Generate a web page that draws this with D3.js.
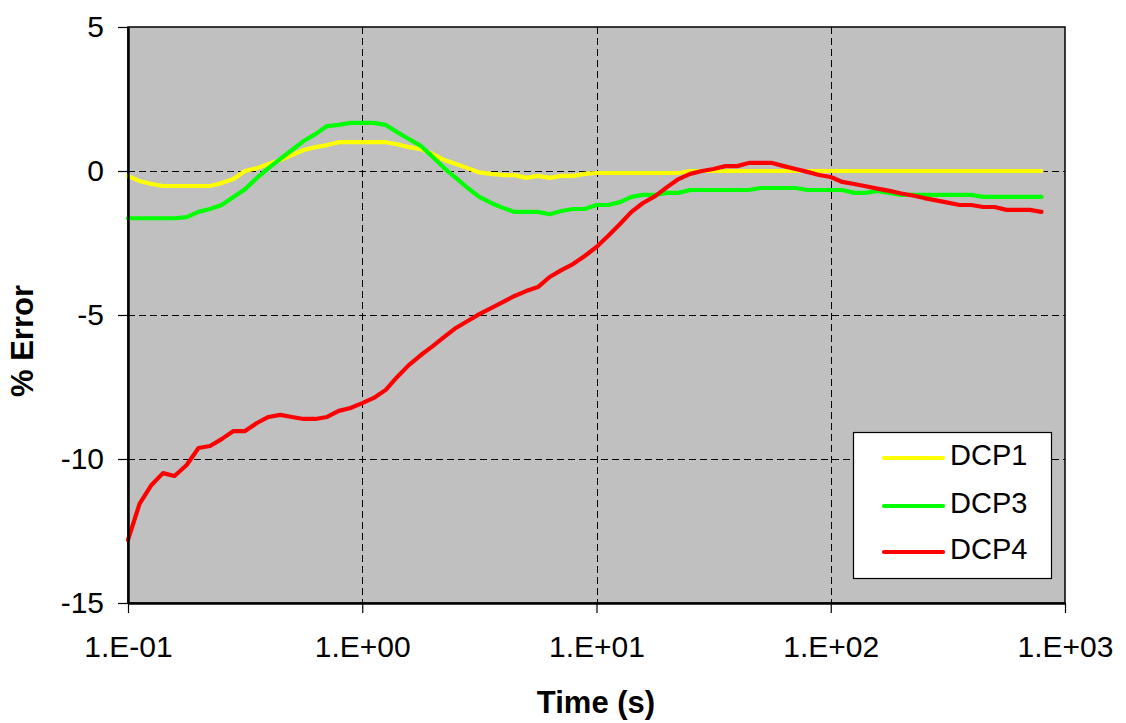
<!DOCTYPE html>
<html>
<head>
<meta charset="utf-8">
<script src="https://cdn.jsdelivr.net/npm/d3@7"></script>
<style>
  html, body { margin: 0; padding: 0; background: #fff; }
  svg { display: block; font-family: "Liberation Sans", Arial, sans-serif; }
</style>
</head>
<body>
<svg id="chart" width="1126" height="723"></svg>
<script>
// ---- Data ----
const times = [0.1, 0.112, 0.126, 0.141, 0.158, 0.178, 0.2, 0.224, 0.251, 0.282,
  0.316, 0.355, 0.398, 0.447, 0.501, 0.562, 0.631, 0.708, 0.794, 0.891,
  1, 1.12, 1.26, 1.41, 1.58, 1.78, 2, 2.24, 2.51, 2.82,
  3.16, 3.55, 3.98, 4.47, 5.01, 5.62, 6.31, 7.08, 7.94, 8.91,
  10, 11.2, 12.6, 14.1, 15.8, 17.8, 20, 22.4, 25.1, 28.2,
  31.6, 35.5, 39.8, 44.7, 50.1, 56.2, 63.1, 70.8, 79.4, 89.1,
  100, 112, 126, 141, 158, 178, 200, 224, 251, 282,
  316, 355, 398, 447, 501, 562, 631, 708, 794];

const dcp1 = [-0.17, -0.35, -0.45, -0.52, -0.52, -0.52, -0.52, -0.52, -0.42, -0.28,
  0.0, 0.1, 0.24, 0.38, 0.55, 0.73, 0.83, 0.9, 1.0, 1.0,
  1.0, 1.0, 1.0, 0.93, 0.83, 0.76, 0.59, 0.38, 0.24, 0.1,
  -0.05, -0.1, -0.14, -0.14, -0.24, -0.17, -0.24, -0.17, -0.17, -0.1,
  -0.07, -0.07, -0.07, -0.07, -0.07, -0.07, -0.07, -0.07, 0, 0,
  0, 0, 0, 0, 0, 0, 0, 0, 0, 0,
  0, 0, 0, 0, 0, 0, 0, 0, 0, 0,
  0, 0, 0, 0, 0, 0, 0, 0, 0];

const dcp3 = [-1.64, -1.64, -1.64, -1.64, -1.64, -1.6, -1.42, -1.32, -1.18, -0.9,
  -0.63, -0.24, 0.1, 0.42, 0.73, 1.04, 1.28, 1.56, 1.6, 1.67,
  1.67, 1.67, 1.6, 1.35, 1.11, 0.87, 0.49, 0.1, -0.24, -0.59,
  -0.9, -1.11, -1.28, -1.42, -1.42, -1.42, -1.5, -1.39, -1.32, -1.32,
  -1.18, -1.18, -1.08, -0.9, -0.83, -0.83, -0.76, -0.76, -0.66, -0.66,
  -0.66, -0.66, -0.66, -0.66, -0.59, -0.59, -0.59, -0.59, -0.66, -0.66,
  -0.66, -0.66, -0.76, -0.76, -0.69, -0.76, -0.83, -0.83, -0.83, -0.83,
  -0.83, -0.83, -0.83, -0.9, -0.9, -0.9, -0.9, -0.9, -0.9];

const dcp4 = [-12.81, -11.56, -10.9, -10.49, -10.59, -10.21, -9.62, -9.55, -9.31, -9.03,
  -9.03, -8.75, -8.54, -8.47, -8.54, -8.61, -8.61, -8.54, -8.33, -8.23,
  -8.06, -7.88, -7.6, -7.15, -6.74, -6.39, -6.08, -5.76, -5.45, -5.21,
  -4.97, -4.76, -4.55, -4.34, -4.17, -4.03, -3.68, -3.44, -3.23, -2.95,
  -2.64, -2.26, -1.84, -1.42, -1.11, -0.87, -0.56, -0.28, -0.1, 0,
  0.07, 0.17, 0.17, 0.28, 0.28, 0.28, 0.17, 0.07, -0.03, -0.14,
  -0.21, -0.38, -0.45, -0.53, -0.61, -0.69, -0.78, -0.85, -0.94, -1.02,
  -1.1, -1.18, -1.18, -1.25, -1.25, -1.35, -1.35, -1.35, -1.42];

const seriesNames = ["DCP1", "DCP3", "DCP4"];
const seriesColors = ["#FFFF00", "#00FF00", "#FF0000"];
const seriesValues = [dcp1, dcp3, dcp4];

const xTicks = [0.1, 1, 10, 100, 1000];
const yTicks = [-15, -10, -5, 0, 5];

// ---- Layout ----
const svg = d3.select("#chart");
const plot = { left: 128, right: 1065, top: 27, bottom: 603 };
const x = d3.scaleLog().domain([0.1, 1000]).range([plot.left, plot.right]);
const y = d3.scaleLinear().domain([-15, 5]).range([plot.bottom, plot.top]);

const fmtX = d => {
  const e = Math.round(Math.log10(d));
  return "1.E" + (e < 0 ? "-" : "+") + String(Math.abs(e)).padStart(2, "0");
};
const fmtY = d => (d < 0 ? "-" : "") + Math.abs(d);

// plot background
svg.append("rect")
  .attr("x", plot.left).attr("y", plot.top)
  .attr("width", plot.right - plot.left).attr("height", plot.bottom - plot.top)
  .attr("fill", "#C0C0C0");

// gridlines
const grid = svg.append("g").attr("stroke", "#000").attr("stroke-width", 1)
  .attr("stroke-dasharray", "7,4").attr("shape-rendering", "crispEdges");
grid.selectAll("line.v").data(xTicks.slice(1, -1)).join("line")
  .attr("x1", d => Math.round(x(d)) + 0.5).attr("x2", d => Math.round(x(d)) + 0.5)
  .attr("y1", plot.top).attr("y2", plot.bottom);
grid.selectAll("line.h").data(yTicks.slice(1, -1)).join("line")
  .attr("y1", d => Math.round(y(d)) + 0.5).attr("y2", d => Math.round(y(d)) + 0.5)
  .attr("x1", plot.left).attr("x2", plot.right);

// border
svg.append("rect")
  .attr("x", plot.left).attr("y", plot.top)
  .attr("width", plot.right - plot.left).attr("height", plot.bottom - plot.top)
  .attr("fill", "none").attr("stroke", "#000").attr("stroke-width", 1.5);

// lines
const line = d3.line().x((d, i) => x(times[i])).y(d => y(d));
seriesValues.forEach((vals, si) => {
  svg.append("path")
    .datum(vals)
    .attr("fill", "none")
    .attr("stroke", seriesColors[si])
    .attr("stroke-width", 4.2)
    .attr("stroke-linejoin", "round")
    .attr("stroke-linecap", "round")
    .attr("d", line);
});

// axes
const xAxis = d3.axisBottom(x).tickValues(xTicks).tickFormat(fmtX).tickSizeOuter(0).tickSizeInner(10).tickPadding(23);
const gx = svg.append("g").attr("transform", `translate(0,${plot.bottom})`).call(xAxis);
const yAxis = d3.axisLeft(y).tickValues(yTicks).tickFormat(fmtY).tickSizeOuter(0).tickSizeInner(10).tickPadding(14);
const gy = svg.append("g").attr("transform", `translate(${plot.left},0)`).call(yAxis);

[gx, gy].forEach(g => {
  g.select(".domain").attr("stroke", "#000").attr("stroke-width", 2.5);
  g.selectAll(".tick line").attr("stroke", "#000").attr("stroke-width", 1.2);
  g.selectAll(".tick text").attr("font-size", 30).attr("fill", "#000")
    .attr("font-family", "'Liberation Sans', Arial, sans-serif");
});

// axis titles
svg.append("text")
  .attr("x", 596).attr("y", 713)
  .attr("text-anchor", "middle").attr("font-size", 31).attr("font-weight", "bold")
  .text("Time (s)");
svg.append("text")
  .attr("transform", "translate(33,341) rotate(-90)")
  .attr("text-anchor", "middle").attr("font-size", 31).attr("font-weight", "bold")
  .text("% Error");

// legend
const lg = svg.append("g");
lg.append("rect").attr("x", 853.5).attr("y", 432.5).attr("width", 198).attr("height", 146)
  .attr("fill", "#fff").attr("stroke", "#000").attr("stroke-width", 1.2);
const legendRowY = [458, 506, 552];
seriesNames.forEach((name, i) => {
  lg.append("line").attr("x1", 884).attr("x2", 943)
    .attr("y1", legendRowY[i]).attr("y2", legendRowY[i])
    .attr("stroke", seriesColors[i]).attr("stroke-width", 4.2).attr("stroke-linecap", "round");
  lg.append("text").attr("x", 950).attr("y", legendRowY[i] + 7)
    .attr("font-size", 29).attr("fill", "#000").text(name);
});
</script>
</body>
</html>
